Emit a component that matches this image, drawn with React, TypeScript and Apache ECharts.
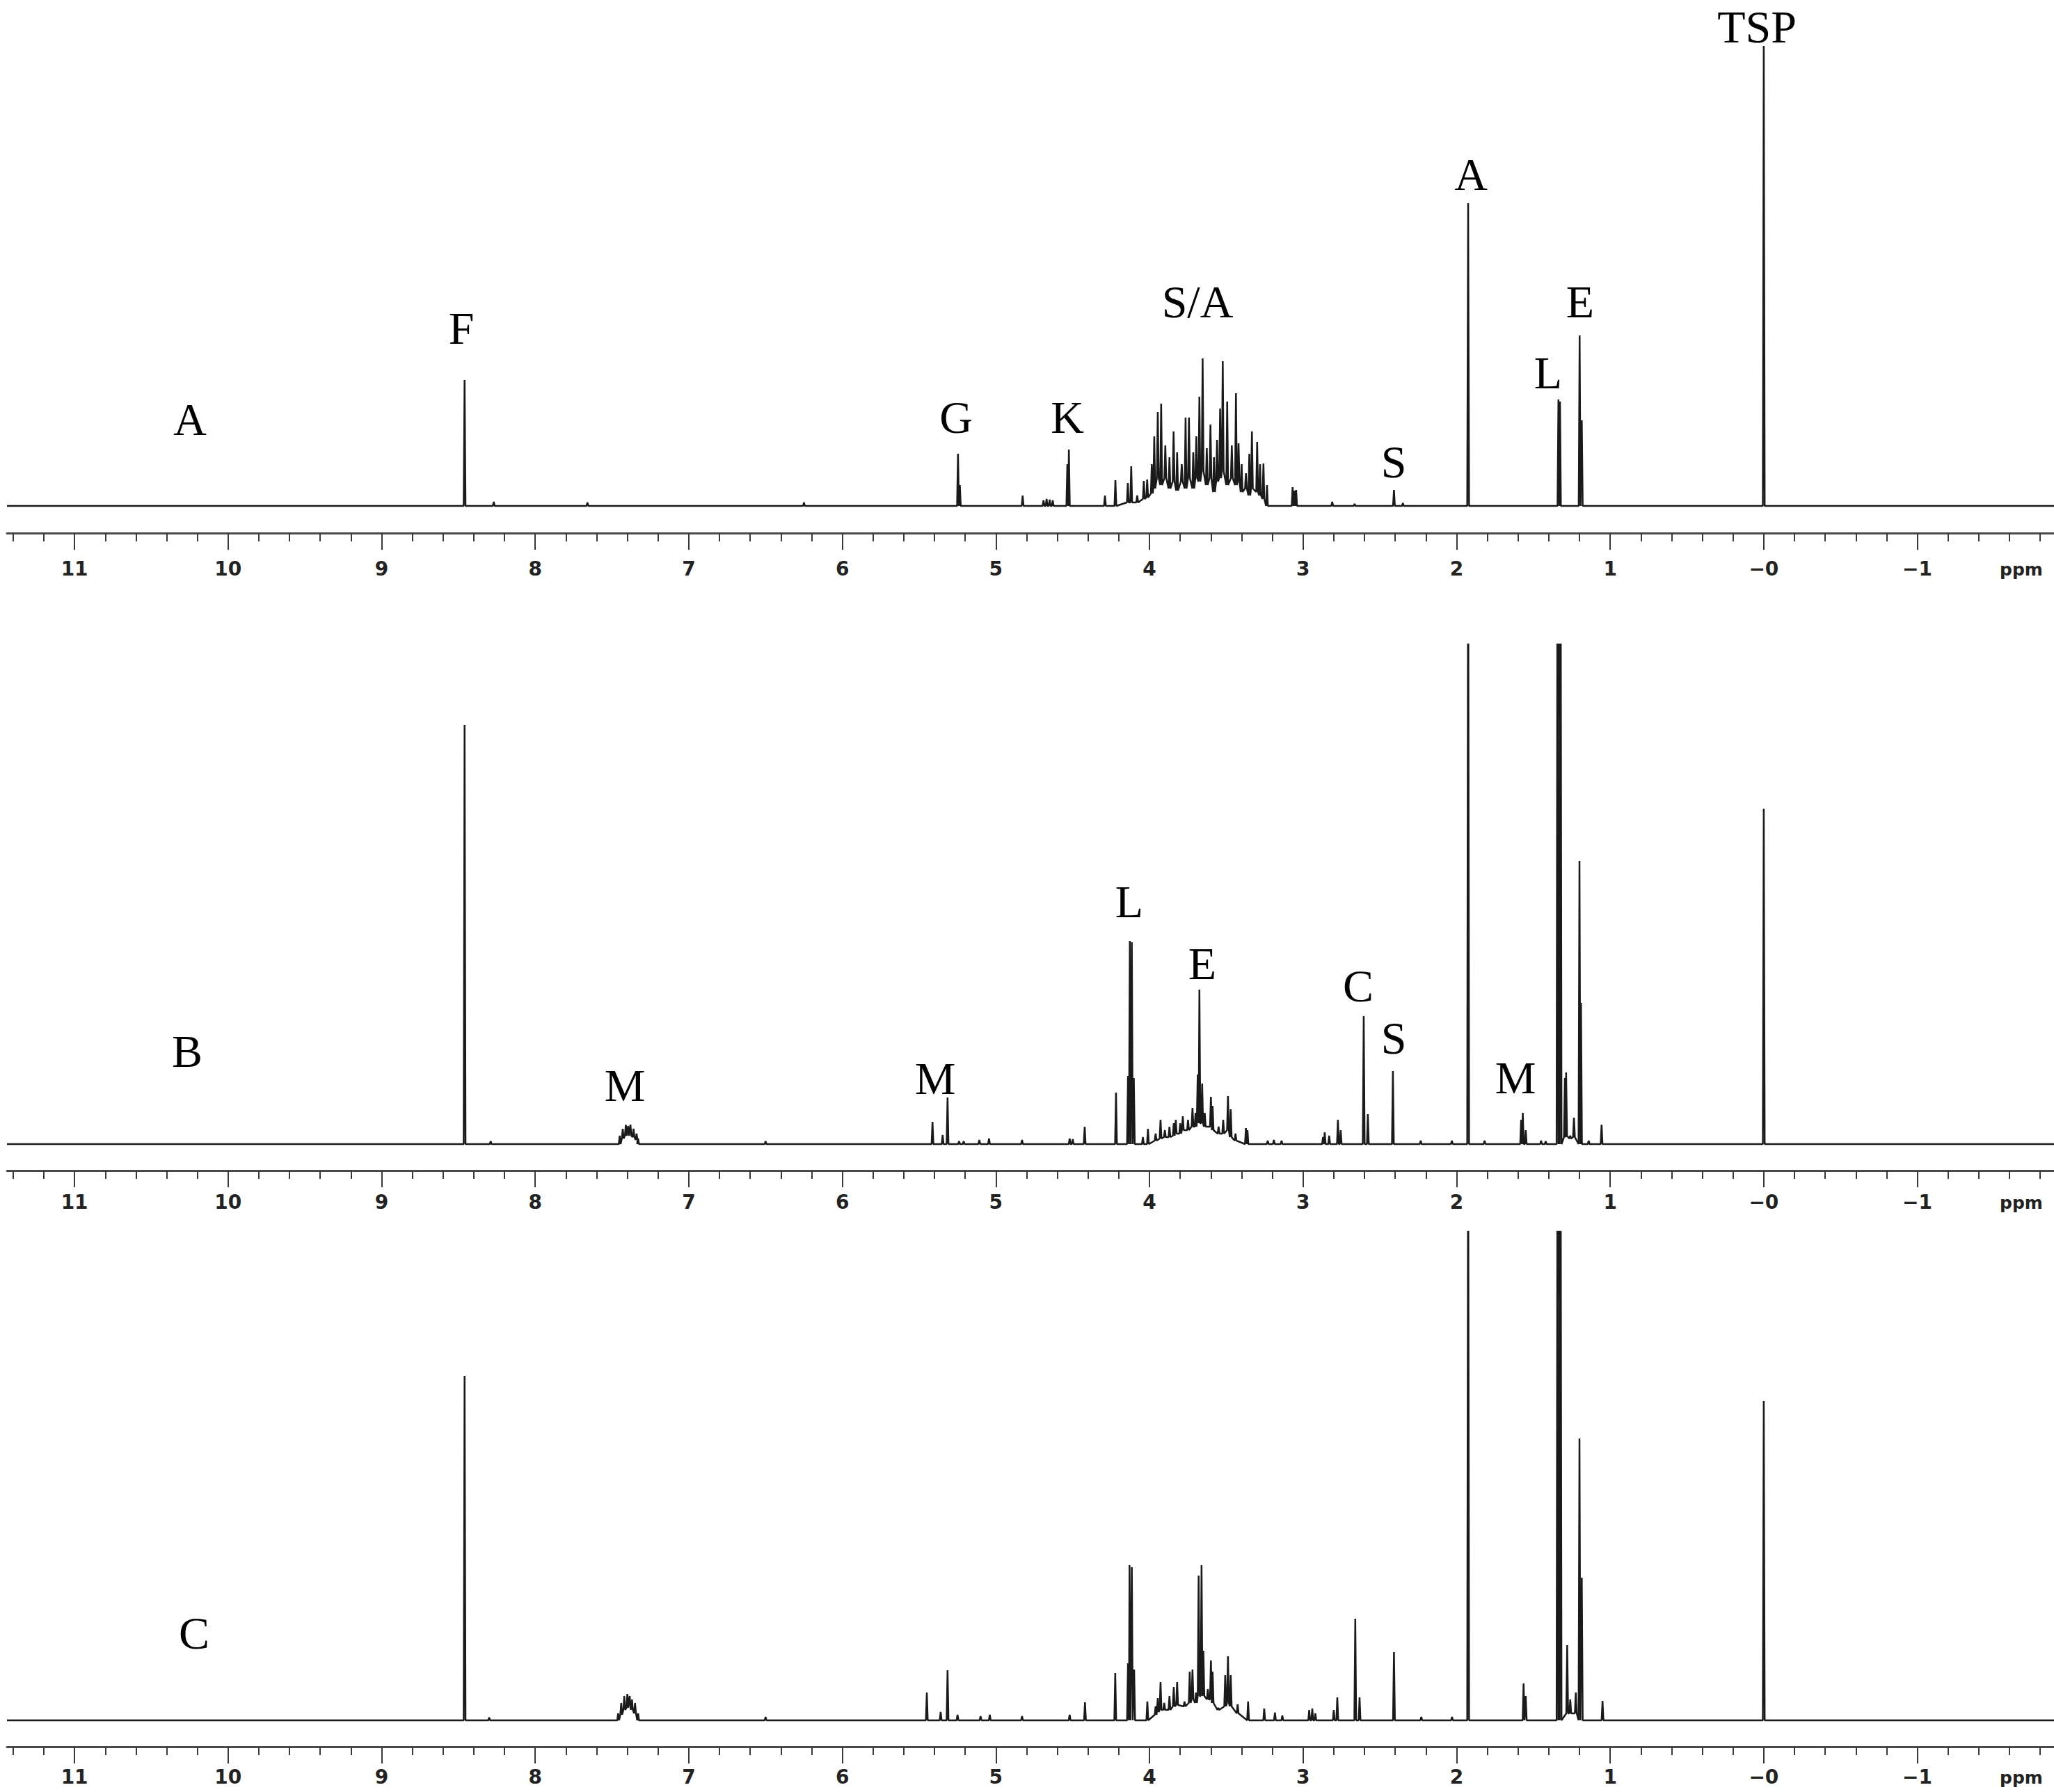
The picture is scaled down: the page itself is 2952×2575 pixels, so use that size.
import React, { useEffect, useRef } from "react";
import * as echarts from "echarts";

// ppm axis range (inverse, high ppm on the left)
const XMIN = -1.89;
const XMAX = 11.44;
const W = 0.006; // half-width of a spike, ppm

const majorTicks = [11, 10, 9, 8, 7, 6, 5, 4, 3, 2, 1, 0, -1];
const majorTickLabels = ["11", "10", "9", "8", "7", "6", "5", "4", "3", "2", "1", "\u22120", "\u22121"];

// Spectrum A: peak position (ppm), height, local floor (valley level)
const ppmA = [8.46, 8.27, 7.66, 6.25, 5.247, 5.235, 4.826, 4.69, 4.67, 4.65, 4.63, 4.535, 4.525, 4.29, 4.222, 4.141, 4.119, 4.08, 4.037, 4.015, 3.985, 3.969, 3.946, 3.924, 3.897, 3.87, 3.843, 3.82, 3.79, 3.765, 3.743, 3.715, 3.695, 3.675, 3.654, 3.627, 3.603, 3.58, 3.56, 3.54, 3.523, 3.494, 3.464, 3.437, 3.42, 3.4, 3.372, 3.35, 3.333, 3.299, 3.28, 3.258, 3.235, 3.068, 3.055, 3.045, 2.81, 2.664, 2.408, 2.35, 1.925, 1.337, 1.327, 1.199, 1.185, 0.0];
const heightA = [181, 6, 5, 5, 75, 30, 15, 8, 10, 9, 8, 60, 81, 15, 37, 33, 57, 15, 36, 38, 60, 100, 135, 147, 87, 70, 107, 77, 60, 127, 127, 77, 100, 157, 212, 83, 117, 70, 95, 140, 208, 150, 87, 162, 90, 60, 47, 75, 107, 92, 60, 61, 30, 27, 22, 23, 6, 3, 23, 4, 435, 153, 150, 245, 123, 661];
const floorA = [0, 0, 0, 0, 0, 0, 0, 0, 0, 0, 0, 0, 0, 0, 0, 5, 5, 5, 10, 12, 18, 25, 40, 30, 40, 25, 35, 22, 35, 25, 40, 25, 40, 35, 50, 30, 40, 20, 35, 40, 50, 30, 40, 30, 35, 20, 25, 15, 25, 20, 15, 10, 0, 0, 5, 0, 0, 0, 0, 0, 0, 0, 0, 0, 0, 0];

// Spectrum B
const ppmB = [8.46, 8.29, 7.45, 7.43, 7.41, 7.395, 7.38, 7.36, 7.34, 7.33, 6.5, 5.413, 5.347, 5.315, 5.24, 5.21, 5.108, 5.045, 4.83, 4.52, 4.5, 4.422, 4.218, 4.14, 4.128, 4.115, 4.102, 4.043, 4.01, 3.96, 3.928, 3.9, 3.87, 3.842, 3.829, 3.8, 3.783, 3.749, 3.72, 3.7, 3.686, 3.675, 3.657, 3.64, 3.6, 3.589, 3.55, 3.52, 3.489, 3.471, 3.44, 3.372, 3.362, 3.23, 3.19, 3.14, 2.87, 2.859, 2.83, 2.773, 2.755, 2.605, 2.578, 2.415, 2.234, 2.031, 1.925, 1.818, 1.58, 1.569, 1.55, 1.45, 1.42, 1.343, 1.333, 1.323, 1.295, 1.287, 1.26, 1.236, 1.2, 1.19, 1.14, 1.056, 0.0];
const heightB = [602, 4, 12, 22, 28, 26, 28, 22, 15, 8, 4, 32, 13, 67, 4, 4, 6, 8, 6, 8, 7, 25, 74, 98, 292, 290, 95, 10, 22, 15, 35, 20, 25, 30, 35, 30, 40, 35, 52, 45, 100, 222, 87, 45, 68, 55, 25, 35, 69, 50, 15, 23, 20, 5, 6, 5, 10, 17, 12, 35, 20, 184, 43, 105, 5, 5, 950, 5, 35, 45, 20, 5, 4, 950, 950, 950, 95, 103, 12, 38, 407, 203, 5, 28, 482];
const floorB = [0, 0, 0, 8, 12, 12, 12, 10, 6, 0, 0, 0, 0, 0, 0, 0, 0, 0, 0, 0, 0, 0, 0, 0, 0, 0, 0, 0, 0, 5, 8, 10, 10, 12, 15, 15, 20, 20, 25, 25, 30, 30, 30, 25, 25, 20, 15, 15, 20, 10, 5, 0, 0, 0, 0, 0, 0, 0, 0, 0, 0, 0, 0, 0, 0, 0, 0, 0, 0, 0, 0, 0, 0, 0, 600, 0, 10, 12, 8, 10, 0, 0, 0, 0, 0];

// Spectrum C
const ppmC = [8.46, 8.3, 7.46, 7.44, 7.42, 7.4, 7.385, 7.37, 7.35, 7.33, 6.5, 5.45, 5.36, 5.315, 5.25, 5.1, 5.04, 4.83, 4.52, 4.42, 4.223, 4.14, 4.13, 4.115, 4.1, 4.014, 3.96, 3.946, 3.928, 3.904, 3.87, 3.842, 3.82, 3.772, 3.738, 3.72, 3.697, 3.68, 3.661, 3.649, 3.62, 3.6, 3.589, 3.552, 3.507, 3.489, 3.471, 3.426, 3.358, 3.253, 3.183, 3.135, 2.96, 2.94, 2.92, 2.8, 2.777, 2.66, 2.632, 2.408, 2.23, 2.03, 1.925, 1.564, 1.55, 1.343, 1.333, 1.323, 1.28, 1.26, 1.224, 1.2, 1.185, 1.05, 0.0];
const heightC = [495, 4, 10, 25, 35, 38, 35, 30, 25, 10, 5, 40, 12, 72, 8, 6, 8, 6, 8, 26, 68, 82, 223, 220, 73, 27, 20, 32, 55, 25, 35, 48, 55, 27, 70, 73, 40, 208, 223, 100, 45, 86, 70, 18, 65, 92, 65, 23, 27, 17, 11, 7, 15, 17, 10, 15, 33, 146, 33, 98, 5, 5, 900, 53, 35, 900, 900, 900, 108, 30, 40, 405, 205, 28, 459];
const floorC = [0, 0, 0, 8, 15, 18, 18, 15, 10, 0, 0, 0, 0, 0, 0, 0, 0, 0, 0, 0, 0, 0, 0, 0, 0, 0, 8, 12, 15, 15, 15, 20, 22, 20, 25, 30, 25, 35, 35, 35, 30, 30, 25, 15, 20, 25, 20, 10, 0, 0, 0, 0, 0, 0, 0, 0, 0, 0, 0, 0, 0, 0, 0, 0, 0, 0, 600, 0, 10, 10, 10, 0, 0, 0, 0];

// Peak annotations
const labelsA = [
  { t: "F", x: 663, y: 471 },
  { t: "G", x: 1374, y: 599 },
  { t: "K", x: 1534, y: 599 },
  { t: "S/A", x: 1721, y: 433 },
  { t: "S", x: 2003, y: 663 },
  { t: "A", x: 2114, y: 250 },
  { t: "L", x: 2225, y: 535 },
  { t: "E", x: 2271, y: 433 },
  { t: "TSP", x: 2525, y: 38 },
  { t: "A", x: 273, y: 602 },
];
const labelsB = [
  { t: "M", x: 898, y: 1559 },
  { t: "M", x: 1344, y: 1549 },
  { t: "L", x: 1623, y: 1295 },
  { t: "E", x: 1728, y: 1384 },
  { t: "C", x: 1952, y: 1416 },
  { t: "S", x: 2003, y: 1491 },
  { t: "M", x: 2178, y: 1548 },
  { t: "B", x: 269, y: 1510 },
];
const labelsC = [{ t: "C", x: 279, y: 2346 }];

const panels = [
  { ppm: ppmA, h: heightA, f: floorA, top: 0, axisY: 766, lift: 39, ymax: 727, margin: 40 },
  { ppm: ppmB, h: heightB, f: floorB, top: 926, axisY: 1682, lift: 38, ymax: 718, margin: 34 },
  { ppm: ppmC, h: heightC, f: floorC, top: 1770, axisY: 2510, lift: 38, ymax: 702, margin: 32 },
];

function buildTrace(ppm: number[], h: number[], f: number[]) {
  const pts: number[][] = [[XMAX, 0]];
  for (let i = 0; i < ppm.length; i++) {
    pts.push([ppm[i] + W, f[i]], [ppm[i], h[i]], [ppm[i] - W, f[i]]);
  }
  pts.push([XMIN, 0]);
  return pts;
}

const minorTicks: number[] = [];
for (let k = -9; k <= 57; k++) {
  const v = Math.round(k * 2) / 10;
  if (Math.abs(v - Math.round(v)) > 1e-6) minorTicks.push(v);
}

export default function App() {
  const ref = useRef<HTMLDivElement>(null);
  useEffect(() => {
    if (!ref.current) return;
    const chart = echarts.init(ref.current, null, { renderer: "svg" });
    const grid: any[] = [];
    const xAxis: any[] = [];
    const yAxis: any[] = [];
    const series: any[] = [];
    const graphic: any[] = [];
    panels.forEach((p, i) => {
      grid.push({ left: 10, right: 0, top: p.top, height: p.axisY - p.top, containLabel: false });
      xAxis.push({
        type: "value", gridIndex: i, min: XMIN, max: XMAX, inverse: true, position: "bottom",
        axisLine: { show: true, onZero: false, lineStyle: { color: "#4a4a4a", width: 3 } },
        axisTick: { show: true, length: 24, customValues: majorTicks, lineStyle: { color: "#3a3a3a", width: 2 } },
        axisLabel: {
          show: true, customValues: majorTicks, margin: p.margin, lineHeight: 22,
          formatter: (v: number) => majorTickLabels[majorTicks.indexOf(Math.round(v))] ?? String(v),
          fontFamily: "DejaVu Sans", fontWeight: "bold", fontSize: 28, color: "#222",
        },
        splitLine: { show: false },
      });
      xAxis.push({
        type: "value", gridIndex: i, min: XMIN, max: XMAX, inverse: true, position: "bottom", offset: 0,
        axisLine: { show: false, onZero: false },
        axisTick: { show: true, length: 12, customValues: minorTicks, lineStyle: { color: "#3a3a3a", width: 2 } },
        axisLabel: { show: false },
        splitLine: { show: false },
      });
      yAxis.push({ type: "value", gridIndex: i, min: -p.lift, max: p.ymax, show: false, splitLine: { show: false } });
      series.push({
        type: "line", xAxisIndex: i * 2, yAxisIndex: i, data: buildTrace(p.ppm, p.h, p.f),
        showSymbol: false, symbol: "none", clip: true,
        lineStyle: { color: "#1a1a1a", width: 2.5 }, silent: true,
      });
      graphic.push({
        type: "text", x: 2905, y: p.axisY + p.margin + 12,
        style: { text: "ppm", fontFamily: "DejaVu Sans", fontWeight: "bold", fontSize: 25, lineHeight: 22, fill: "#222", align: "center", verticalAlign: "middle" },
      });
    });
    [...labelsA, ...labelsB, ...labelsC].forEach((l) => {
      graphic.push({
        type: "text", x: l.x, y: l.y,
        style: { text: l.t, fontFamily: "Liberation Serif", fontSize: 66, fill: "#000", align: "center", verticalAlign: "middle" },
      });
    });
    chart.setOption({ animation: false, backgroundColor: "#fff", grid, xAxis, yAxis, series, graphic });
    return () => chart.dispose();
  }, []);
  return <div ref={ref} style={{ position: "fixed", left: 0, top: 0, width: 2952, height: 2575, background: "#fff" }} />;
}
